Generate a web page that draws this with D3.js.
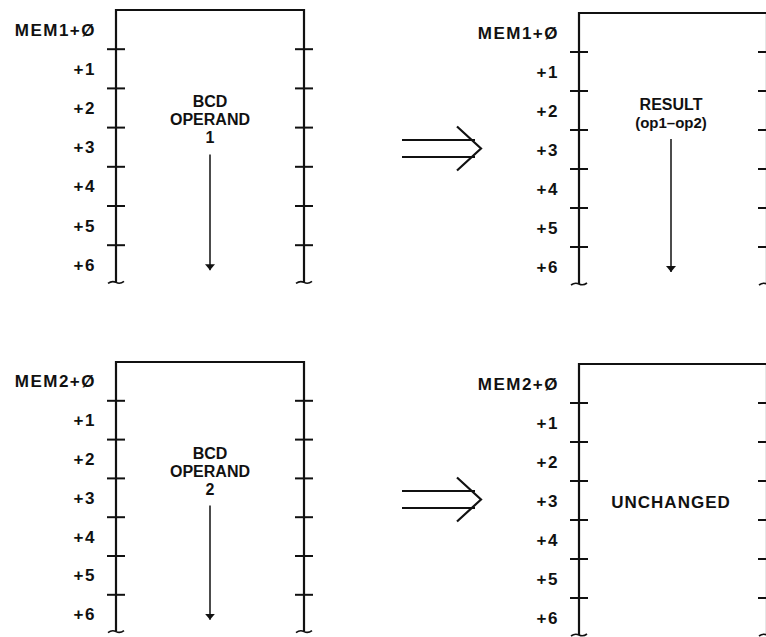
<!DOCTYPE html>
<html>
<head>
<meta charset="utf-8">
<script src="https://cdn.jsdelivr.net/npm/d3@7"></script>
<style>
  html, body { margin: 0; padding: 0; background: #fff; }
  svg { display: block; }
  text { font-family: "Liberation Sans", Arial, sans-serif; font-weight: bold; fill: #111; }
</style>
</head>
<body>
<div id="chart"></div>
<script>
// offsets of the memory bytes, one per row
const offsets = ["+Ø", "+1", "+2", "+3", "+4", "+5", "+6"];
// base names of the two operands
const bases = ["MEM1", "MEM2"];
// what the blocks hold before the operation
const before = [["BCD", "OPERAND", "1"], ["BCD", "OPERAND", "2"]];
// what the blocks hold after the operation
const after = [["RESULT", "(op1–op2)"], ["UNCHANGED"]];
// which blocks show the down arrow (bytes run low to high)
const beforeArrow = [true, true];
const afterArrow = [true, false];

const W = 766, H = 637;
const svg = d3.select('#chart').append('svg')
  .attr('width', W).attr('height', H);

// arrow head for the small downward arrows
svg.append('defs').append('marker')
  .attr('id', 'head')
  .attr('viewBox', '0 0 6 10')
  .attr('refX', 6).attr('refY', 5)
  .attr('markerWidth', 6).attr('markerHeight', 10)
  .attr('markerUnits', 'userSpaceOnUse')
  .attr('orient', 'auto')
  .append('path').attr('d', 'M0,0 L6,5 L0,10 Z').attr('fill', '#111');

// panel layout: left edge, top edge, row height
const panels = [
  { row: 0, col: 0, x0: 116, x1: 304, top: 10, step: 39.2, texts: before[0], arrow: beforeArrow[0] },
  { row: 0, col: 1, x0: 579, x1: 767, top: 13, step: 39.0, texts: after[0], arrow: afterArrow[0] },
  { row: 1, col: 0, x0: 116, x1: 304, top: 362, step: 38.8, texts: before[1], arrow: beforeArrow[1] },
  { row: 1, col: 1, x0: 579, x1: 767, top: 364, step: 39.0, texts: after[1], arrow: afterArrow[1] }
];

const rows = d3.range(offsets.length);
const lineGap = 18;

panels.forEach(p => {
  const y = d3.scaleLinear().domain([0, offsets.length]).range([p.top, p.top + p.step * offsets.length]);
  const g = svg.append('g');
  const yEnd = y(offsets.length) - 2;

  // box outline: two sides and the top
  g.append('path')
    .attr('d', `M${p.x0},${yEnd} V${p.top} H${p.x1} V${yEnd}`)
    .attr('fill', 'none').attr('stroke', '#111').attr('stroke-width', 2.2);

  // squiggles where the block continues
  [p.x0, p.x1].forEach(x => {
    g.append('path')
      .attr('d', `M${x - 8},${yEnd + 1} Q${x - 4},${yEnd - 2} ${x},${yEnd} T${x + 8},${yEnd - 1}`)
      .attr('fill', 'none').attr('stroke', '#111').attr('stroke-width', 1.6);
  });

  // byte boundaries on both sides
  const ticks = rows.slice(1);
  [p.x0, p.x1].forEach(x => {
    g.selectAll(null).data(ticks).enter().append('line')
      .attr('x1', x - 9).attr('x2', x + 9)
      .attr('y1', d => y(d)).attr('y2', d => y(d))
      .attr('stroke', '#111').attr('stroke-width', 2);
  });

  // offset labels
  g.selectAll(null).data(rows).enter().append('text')
    .attr('x', p.x0 - 20)
    .attr('y', d => (y(d) + y(d + 1)) / 2 + 6)
    .attr('text-anchor', 'end')
    .attr('font-size', 17)
    .attr('letter-spacing', 1.5)
    .text(d => d === 0 ? bases[p.row] + offsets[d] : offsets[d]);

  // block contents
  const cx = (p.x0 + p.x1) / 2 - (p.col === 1 ? 2 : 0);
  const first = y(2) + 19;
  if (p.texts.length === 1) {
    g.append('text')
      .attr('x', cx).attr('y', (y(3) + y(4)) / 2 + 7)
      .attr('text-anchor', 'middle').attr('font-size', 17).attr('letter-spacing', 1)
      .text(p.texts[0]);
  } else {
    g.selectAll(null).data(p.texts).enter().append('text')
      .attr('x', cx)
      .attr('y', (d, i) => first + i * lineGap)
      .attr('text-anchor', 'middle')
      .attr('font-size', (d, i) => d.startsWith('(') ? 15 : 16)
      .text(d => d);
  }

  if (p.arrow) {
    const last = first + (p.texts.length - 1) * lineGap;
    g.append('line')
      .attr('x1', cx).attr('x2', cx)
      .attr('y1', last + 11).attr('y2', y(6) + 25)
      .attr('stroke', '#111').attr('stroke-width', 1.5)
      .attr('marker-end', 'url(#head)');
  }
});

// the "becomes" double arrows between before and after
[0, 1].forEach(r => {
  const p = panels.find(d => d.row === r && d.col === 1);
  const y = d3.scaleLinear().domain([0, offsets.length]).range([p.top, p.top + p.step * offsets.length]);
  const tip = (y(3) + y(4)) / 2 - 1;
  const g = svg.append('g').attr('fill', 'none').attr('stroke', '#111').attr('stroke-width', 2.2);
  [-8.5, 8.5].forEach(dy => {
    g.append('line').attr('x1', 402).attr('x2', 475)
      .attr('y1', tip + dy).attr('y2', tip + dy);
  });
  g.append('path').attr('d', `M457,${tip - 22} L481,${tip} L457,${tip + 22}`);
});
</script>
</body>
</html>
